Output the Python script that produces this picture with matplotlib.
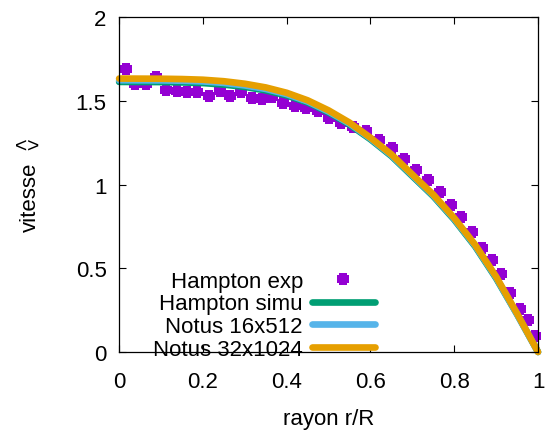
import numpy as np
import matplotlib
matplotlib.use("Agg")
import matplotlib.pyplot as plt
from matplotlib.ticker import FormatStrFormatter

plt.rcParams["font.family"] = ["Liberation Sans", "DejaVu Sans"]
plt.rcParams["font.size"] = 16

r_exp = [0.016, 0.039, 0.063, 0.089, 0.113, 0.139, 0.163, 0.187, 0.214, 0.240,
         0.264, 0.291, 0.316, 0.340, 0.364, 0.392, 0.420, 0.445, 0.475, 0.500,
         0.529, 0.559, 0.589, 0.620, 0.652, 0.681, 0.709, 0.737, 0.765, 0.792,
         0.817, 0.842, 0.867, 0.889, 0.912, 0.933, 0.957, 0.977, 0.992]
v_exp = [1.69, 1.60, 1.60, 1.64, 1.566, 1.56, 1.55, 1.55, 1.53, 1.556,
         1.527, 1.55, 1.516, 1.51, 1.52, 1.487, 1.47, 1.46, 1.44, 1.395,
         1.365, 1.345, 1.32, 1.266, 1.216, 1.152, 1.087, 1.027, 0.953, 0.878,
         0.807, 0.716, 0.623, 0.548, 0.466, 0.354, 0.257, 0.191, 0.097]

# simulation profiles
r_sim = [0.0, 0.1, 0.15, 0.2, 0.25, 0.3, 0.35, 0.4, 0.45, 0.5, 0.55, 0.6,
         0.65, 0.7, 0.75, 0.8, 0.85, 0.9, 0.95, 1.0]
v_hampton_simu = [1.613, 1.612, 1.61, 1.606, 1.597, 1.583, 1.562, 1.532,
                  1.49, 1.43, 1.358, 1.27, 1.17, 1.05, 0.93, 0.79, 0.63,
                  0.44, 0.225, 0.0]
v_notus_16 = [1.623, 1.622, 1.62, 1.616, 1.607, 1.592, 1.571, 1.54, 1.496,
              1.436, 1.364, 1.275, 1.175, 1.055, 0.935, 0.795, 0.635, 0.445,
              0.225, 0.0]
v_notus_32 = [1.633, 1.632, 1.63, 1.626, 1.617, 1.602, 1.58, 1.548, 1.503,
              1.443, 1.37, 1.28, 1.18, 1.06, 0.94, 0.80, 0.64, 0.45, 0.23, 0.0]

x_ticks = [0, 0.2, 0.4, 0.6, 0.8, 1]
y_ticks = [0, 0.5, 1, 1.5, 2]

# fat filled cross, like gnuplot's small filled point
a, b = 0.3, 0.5
cross = [(-a, -b), (a, -b), (a, -a), (b, -a), (b, a), (a, a), (a, b),
         (-a, b), (-a, a), (-b, a), (-b, -a), (-a, -a), (-a, -b)]

fig = plt.figure(figsize=(5.49, 4.31), dpi=100)
ax = fig.add_axes([0.217, 0.181, 0.763, 0.777])

ax.plot(r_exp, v_exp, ls="none", marker=cross, ms=8.8, mew=0, color="#9400d3",
        label="Hampton exp", clip_on=False)
ax.plot(r_sim, v_hampton_simu, color="#009e73", lw=4.8, label="Hampton simu",
        clip_on=False, solid_capstyle="round")
ax.plot(r_sim, v_notus_16, color="#56b4e9", lw=4.8, label="Notus 16x512",
        clip_on=False, solid_capstyle="round")
ax.plot(r_sim, v_notus_32, color="#e69f00", lw=4.8, label="Notus 32x1024",
        clip_on=False, solid_capstyle="round")

ax.set_xlim(0, 1)
ax.set_ylim(0, 2)
ax.set_xticks(x_ticks)
ax.set_yticks(y_ticks)
ax.xaxis.set_major_formatter(FormatStrFormatter("%g"))
ax.yaxis.set_major_formatter(FormatStrFormatter("%g"))
ax.tick_params(direction="in", length=5, width=0.8, top=True, right=True)
ax.tick_params(axis="y", pad=9)
ax.tick_params(axis="x", pad=14)
for s in ax.spines.values():
    s.set_linewidth(0.9)

ax.set_xlabel("rayon r/R", labelpad=11)
ax.set_ylabel("vitesse")
ax.yaxis.set_label_coords(-0.186, 0.464)
ax.text(-0.220, 0.615, "<>", transform=ax.transAxes, fontsize=15,
        ha="center", va="center")

leg = ax.legend(loc="upper right", bbox_to_anchor=(0.683, 0.370),
                bbox_transform=fig.transFigure, frameon=False, markerfirst=False,
                borderpad=0, borderaxespad=0, handlelength=2.84,
                handletextpad=0.4, labelspacing=0.08, numpoints=1)

fig.savefig("out.png", dpi=100)
